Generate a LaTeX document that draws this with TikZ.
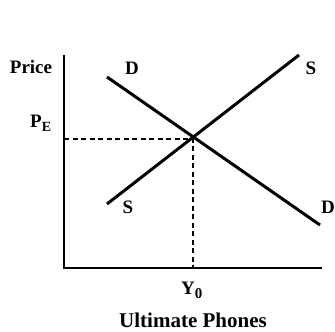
\documentclass[tikz,border=0pt]{standalone}
\usepackage{fontspec}
\setmainfont{Liberation Serif}
\begin{document}
\begin{tikzpicture}[x=1pt,y=-1pt,
  lbl/.style={font=\fontsize{19}{19}\selectfont\bfseries, inner sep=0pt},
  curve/.style={line width=3pt},
  axis/.style={line width=1.7pt},
  guide/.style={line width=1.1pt, dash pattern=on 5pt off 3.5pt}]
\useasboundingbox (0,0) rectangle (335,332);
\coordinate (O) at (64,268);
\coordinate (Ytop) at (64,55);
\coordinate (Xend) at (322,268);
\coordinate (D1) at (107,77);
\coordinate (D2) at (320,225);
\coordinate (S1) at (107,204);
\coordinate (S2) at (299,55);
\coordinate (E) at (193,139);
\coordinate (EY) at (64,139);
\coordinate (EX) at (193,268);
\draw[axis] (Ytop) -- (O) -- (Xend);
\draw[guide] (EY) -- (E) -- (EX);
\draw[curve] (D1) -- (D2);
\draw[curve] (S1) -- (S2);
\node[lbl, anchor=base] (price) at (31,73) {Price};
\node[lbl, anchor=base west] (pe) at (30,127) {P\raisebox{-4pt}{\fontsize{14}{14}\selectfont E}};
\node[lbl, anchor=base] (dtop) at (132,74) {D};
\node[lbl, anchor=base] (stop) at (311,74) {S};
\node[lbl, anchor=base] (sbot) at (128,213) {S};
\node[lbl, anchor=base] (dright) at (328,213) {D};
\node[lbl, anchor=base west] (y0) at (181,294) {Y\raisebox{-4pt}{\fontsize{15}{15}\selectfont 0}};
\node[lbl, font=\fontsize{21}{21}\selectfont\bfseries, anchor=base] (title) at (193,327) {Ultimate Phones};
\end{tikzpicture}
\end{document}
